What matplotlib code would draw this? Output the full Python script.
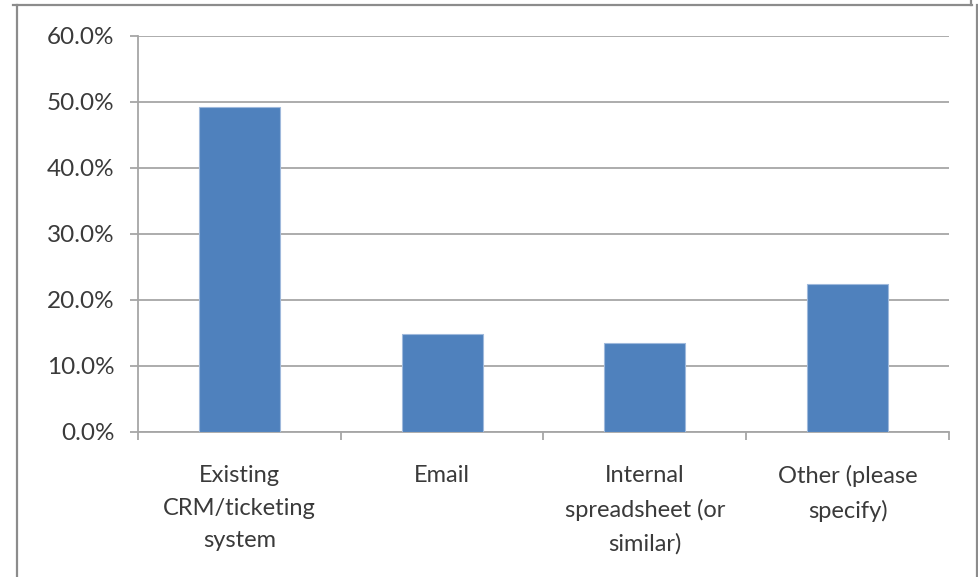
import matplotlib.pyplot as plt
from matplotlib.lines import Line2D
from matplotlib.ticker import MultipleLocator, PercentFormatter

# survey answers, share of respondents (%)
categories = [
    "Existing\nCRM/ticketing\nsystem",
    "Email",
    "Internal\nspreadsheet (or\nsimilar)",
    "Other (please\nspecify)",
]
shares = [49.3, 14.8, 13.5, 22.4]

W, H = 979, 577
bar_color = "#4f81bd"
grid_color = "#a6a6a6"
text_color = "#3a3a3a"

plt.rcParams["font.family"] = ["Lato", "DejaVu Sans"]

fig = plt.figure(figsize=(W / 100, H / 100), dpi=100)
ax = fig.add_axes([138 / W, 1 - 432 / H, (949 - 138) / W, (432 - 36) / H])

x = list(range(len(categories)))
ax.bar(x, shares, width=0.4, color=bar_color, edgecolor="#9fb9dc",
       linewidth=0.8, zorder=3)

ax.set_xlim(-0.5, len(categories) - 0.5)
ax.set_ylim(0, 60)
ax.yaxis.set_major_locator(MultipleLocator(10))
ax.yaxis.set_major_formatter(PercentFormatter(decimals=1))
ax.grid(axis="y", color=grid_color, linewidth=1.3, zorder=0)

ax.set_xticks(x)
ax.set_xticklabels(categories, linespacing=1.68)
ax.set_xticks([i - 0.5 for i in range(len(categories) + 1)], minor=True)
ax.tick_params(axis="x", which="major", length=0, pad=24,
               labelsize=17, labelcolor=text_color)
ax.tick_params(axis="x", which="minor", direction="out", length=6,
               color=grid_color, width=1.3)
ax.tick_params(axis="y", direction="out", length=6, color=grid_color,
               width=1.3, pad=11, labelsize=17.5, labelcolor=text_color)

for side in ("top", "right"):
    ax.spines[side].set_visible(False)
for side in ("left", "bottom"):
    ax.spines[side].set_color(grid_color)
    ax.spines[side].set_linewidth(1.3)

# outer chart border
def fig_line(xs, ys, color="#8c8c8c", lw=1.6):
    fig.add_artist(Line2D([v / W for v in xs], [1 - v / H for v in ys],
                          color=color, linewidth=lw, transform=fig.transFigure))

fig_line([13, 972], [4.5, 4.5])
fig_line([17, 17], [5, H])
fig_line([971, 971], [0, 5])
fig_line([977, 977], [5, H])

fig.savefig("out.png", dpi=100)
